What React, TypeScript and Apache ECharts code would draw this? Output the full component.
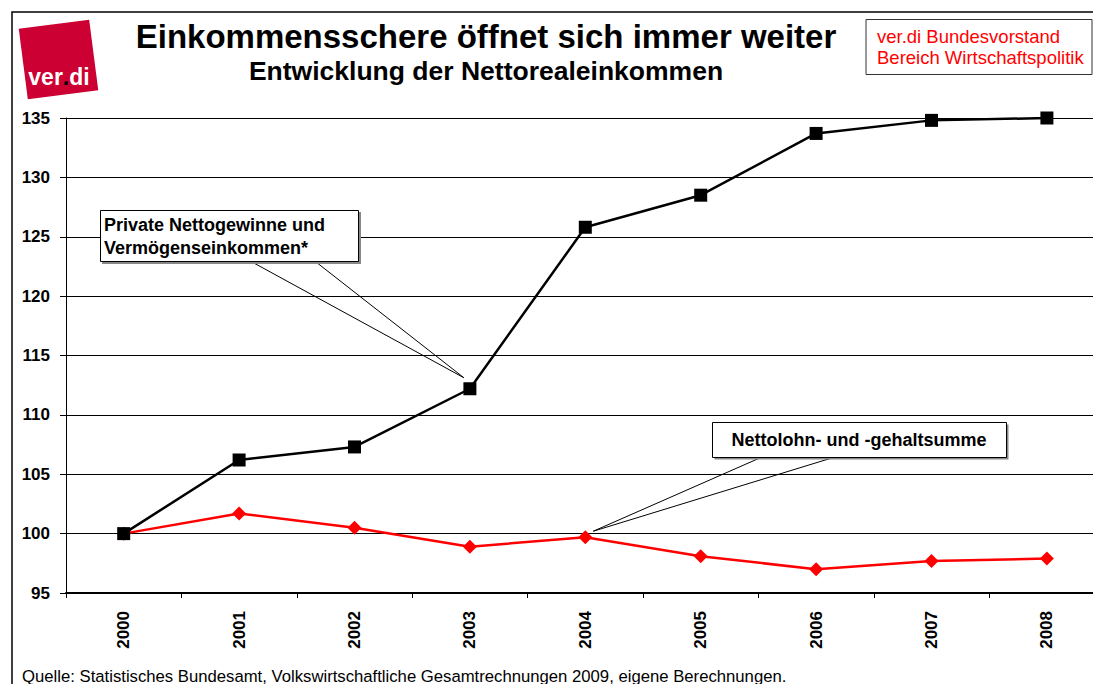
import React, { useEffect, useRef } from "react";
import * as echarts from "echarts";

const years = ["2000", "2001", "2002", "2003", "2004", "2005", "2006", "2007", "2008"];
const gewinne = [100, 106.2, 107.3, 112.2, 125.8, 128.5, 133.7, 134.8, 135.0];
const lohn = [100, 101.7, 100.5, 98.9, 99.7, 98.1, 97.0, 97.7, 97.9];
const yMin = 95;
const yMax = 135;
const yStep = 5;

const titleText = "Einkommensschere öffnet sich immer weiter";
const subtitleText = "Entwicklung der Nettorealeinkommen";
const orgLines = ["ver.di Bundesvorstand", "Bereich Wirtschaftspolitik"];
const gewinneLabel = ["Private Nettogewinne und", "Vermögenseinkommen*"];
const lohnLabel = "Nettolohn- und -gehaltsumme";
const sourceText = "Quelle: Statistisches Bundesamt, Volkswirtschaftliche Gesamtrechnungen 2009, eigene Berechnungen.";

const FONT = "'Liberation Sans', Arial, sans-serif";

export default function App() {
  const ref = useRef<HTMLDivElement>(null);
  useEffect(() => {
    if (!ref.current) return;
    const chart = echarts.init(ref.current, null, { renderer: "svg" });
    chart.setOption({
      animation: false,
      backgroundColor: "#ffffff",
      grid: { left: 66, top: 118, height: 475, width: 1038.6 },
      xAxis: {
        type: "category",
        data: years,
        boundaryGap: true,
        axisLine: { lineStyle: { color: "#000", width: 2 } },
        axisTick: { show: true, length: 5, lineStyle: { color: "#000", width: 1 } },
        axisLabel: {
          rotate: 90,
          margin: 18,
          color: "#000",
          fontFamily: FONT,
          fontWeight: "bold",
          fontSize: 17,
        },
        splitLine: { show: false },
      },
      yAxis: {
        type: "value",
        min: yMin,
        max: yMax,
        interval: yStep,
        axisLine: { show: true, lineStyle: { color: "#000", width: 1 } },
        axisTick: { show: true, length: 6, lineStyle: { color: "#000" } },
        axisLabel: {
          margin: 16,
          color: "#000",
          fontFamily: FONT,
          fontWeight: "bold",
          fontSize: 17,
        },
        splitLine: { show: true, lineStyle: { color: "#000", width: 1 } },
      },
      series: [
        {
          name: "Private Nettogewinne und Vermögenseinkommen*",
          type: "line",
          data: gewinne,
          symbol: "rect",
          symbolSize: 13,
          itemStyle: { color: "#000" },
          lineStyle: { color: "#000", width: 2.5 },
          z: 3,
        },
        {
          name: "Nettolohn- und -gehaltsumme",
          type: "line",
          data: lohn,
          symbol: "diamond",
          symbolSize: 14,
          itemStyle: { color: "#ff0000" },
          lineStyle: { color: "#ff0000", width: 2.5 },
          z: 2,
        },
      ],
    });

    const tipG = chart.convertToPixel({ xAxisIndex: 0, yAxisIndex: 0 }, [years[3], gewinne[3]]) as number[];
    const tipL = chart.convertToPixel({ xAxisIndex: 0, yAxisIndex: 0 }, [years[4], lohn[4]]) as number[];
    const tg = [tipG[0] - 6, tipG[1] - 11];
    const tl = [tipL[0] + 8, tipL[1] - 6];

    chart.setOption({
      graphic: [
        // frame
        {
          type: "rect",
          shape: { x: 12, y: 12, width: 1200, height: 800 },
          style: { fill: "none", stroke: "#000", lineWidth: 1.5 },
          silent: true,
          z: 0,
        },
        // logo
        {
          type: "group",
          x: 58.5,
          y: 59.5,
          rotation: 0.128,
          children: [
            {
              type: "rect",
              shape: { x: -35.5, y: -35.5, width: 71, height: 71 },
              style: { fill: "#cc0033" },
            },
          ],
        },
        {
          type: "text",
          x: 59,
          y: 77,
          style: {
            text: "{a|ver}{b|.}{a|di}",
            textAlign: "center",
            textVerticalAlign: "middle",
            rich: {
              a: { fill: "#fff", fontFamily: FONT, fontWeight: "bold", fontSize: 23 },
              b: { fill: "#000", fontFamily: FONT, fontWeight: "bold", fontSize: 23 },
            },
          },
        },
        // titles
        {
          type: "text",
          x: 486,
          y: 36,
          style: {
            text: titleText,
            textAlign: "center",
            textVerticalAlign: "middle",
            fill: "#000",
            fontFamily: FONT,
            fontWeight: "bold",
            fontSize: 33,
          },
        },
        {
          type: "text",
          x: 486,
          y: 71,
          style: {
            text: subtitleText,
            textAlign: "center",
            textVerticalAlign: "middle",
            fill: "#000",
            fontFamily: FONT,
            fontWeight: "bold",
            fontSize: 26.5,
          },
        },
        // org box
        {
          type: "rect",
          shape: { x: 866, y: 19.5, width: 226, height: 55 },
          style: { fill: "#fff", stroke: "#333", lineWidth: 1 },
        },
        {
          type: "text",
          x: 877,
          y: 36,
          style: {
            text: orgLines[0],
            textVerticalAlign: "middle",
            fill: "#ff0000",
            fontFamily: FONT,
            fontSize: 18.5,
          },
        },
        {
          type: "text",
          x: 877,
          y: 57,
          style: {
            text: orgLines[1],
            textVerticalAlign: "middle",
            fill: "#ff0000",
            fontFamily: FONT,
            fontSize: 18.5,
          },
        },
        // callout Gewinne
        {
          type: "polyline",
          shape: { points: [[252, 262], tg, [316, 262]] },
          style: { fill: "none", stroke: "#000", lineWidth: 1 },
          z: 10,
        },
        {
          type: "rect",
          shape: { x: 102, y: 212, width: 259, height: 52 },
          style: { fill: "#888" },
          z: 10,
        },
        {
          type: "rect",
          shape: { x: 100.5, y: 210.5, width: 258, height: 51 },
          style: { fill: "#fff", stroke: "#000", lineWidth: 1 },
          z: 11,
        },
        {
          type: "text",
          x: 104,
          y: 225,
          style: {
            text: gewinneLabel[0],
            textVerticalAlign: "middle",
            fill: "#000",
            fontFamily: FONT,
            fontWeight: "bold",
            fontSize: 18,
          },
          z: 12,
        },
        {
          type: "text",
          x: 104,
          y: 248,
          style: {
            text: gewinneLabel[1],
            textVerticalAlign: "middle",
            fill: "#000",
            fontFamily: FONT,
            fontWeight: "bold",
            fontSize: 18,
          },
          z: 12,
        },
        // callout Lohn
        {
          type: "polyline",
          shape: { points: [[762, 457], tl, [835, 457]] },
          style: { fill: "none", stroke: "#000", lineWidth: 1 },
          z: 10,
        },
        {
          type: "rect",
          shape: { x: 714.5, y: 424.5, width: 294, height: 35 },
          style: { fill: "#888" },
          z: 10,
        },
        {
          type: "rect",
          shape: { x: 712.5, y: 422.5, width: 294, height: 35 },
          style: { fill: "#fff", stroke: "#000", lineWidth: 1 },
          z: 11,
        },
        {
          type: "text",
          x: 859,
          y: 440,
          style: {
            text: lohnLabel,
            textAlign: "center",
            textVerticalAlign: "middle",
            fill: "#000",
            fontFamily: FONT,
            fontWeight: "bold",
            fontSize: 18,
          },
          z: 12,
        },
        // source
        {
          type: "text",
          x: 22,
          y: 676,
          style: {
            text: sourceText,
            textVerticalAlign: "middle",
            fill: "#000",
            fontFamily: FONT,
            fontSize: 16.7,
          },
        },
      ],
    });
    return () => chart.dispose();
  }, []);
  return (
    <div style={{ position: "fixed", left: 0, top: 0, width: 1093, height: 684, overflow: "hidden" }}>
      <div ref={ref} style={{ width: 1120, height: 684 }} />
    </div>
  );
}
